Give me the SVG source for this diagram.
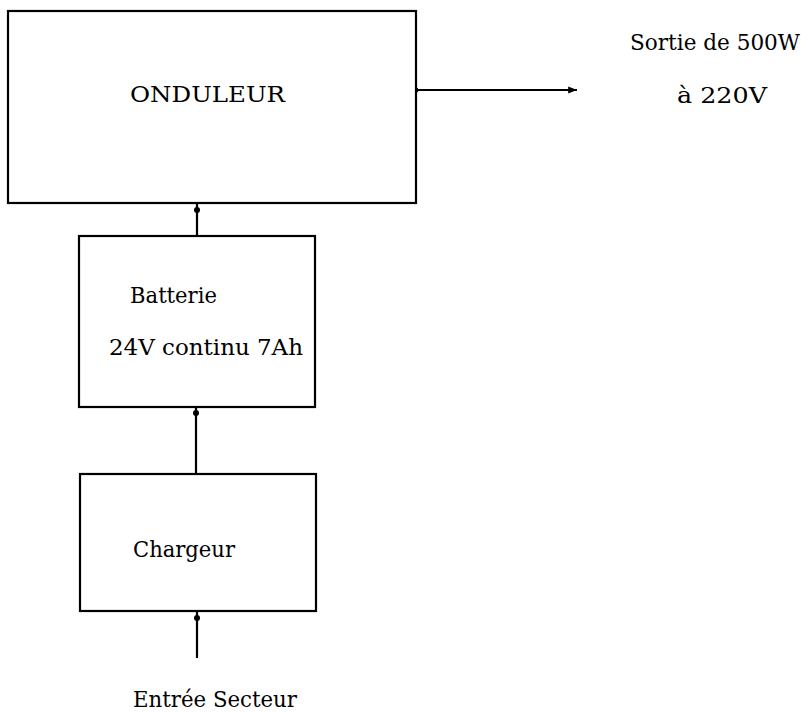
<svg xmlns="http://www.w3.org/2000/svg" width="811" height="713" viewBox="0 0 811 713">
<style>
.box{fill:#fff;stroke:#000;stroke-width:2.2}
.ln{stroke:#000;stroke-width:2.2;fill:none}
.dot{fill:#000}
.t{font-family:"DejaVu Serif","Liberation Serif",serif;font-size:23px;fill:#000}
</style>
<defs>
<marker id="ah" viewBox="0 0 10 10" refX="10" refY="5" markerWidth="4.5" markerHeight="4" orient="auto" markerUnits="strokeWidth">
<path d="M0,1 L10,5 L0,9 z" fill="#000"/>
</marker>
</defs>
<rect width="811" height="713" fill="#fff"/>
<g id="connectors">
<line class="ln" x1="197" y1="203" x2="197" y2="236"/>
<circle class="dot" cx="197" cy="210" r="3"/>
<line class="ln" x1="196" y1="407" x2="196" y2="474"/>
<circle class="dot" cx="196" cy="413" r="3"/>
<line class="ln" x1="197" y1="611" x2="197" y2="658"/>
<circle class="dot" cx="197" cy="618" r="3"/>
<line class="ln" x1="416" y1="90" x2="577" y2="90" marker-end="url(#ah)"/>
<circle class="dot" cx="416" cy="90" r="2.5"/>
</g>
<g id="onduleur">
<rect class="box" x="8" y="11" width="408" height="192"/>
<text class="t" x="130" y="102" textLength="155" lengthAdjust="spacingAndGlyphs">ONDULEUR</text>
</g>
<g id="batterie">
<rect class="box" x="79" y="236" width="236" height="171"/>
<text class="t" x="130" y="303" textLength="87" lengthAdjust="spacingAndGlyphs">Batterie</text>
<text class="t" x="109" y="355" textLength="194" lengthAdjust="spacingAndGlyphs">24V continu 7Ah</text>
</g>
<g id="chargeur">
<rect class="box" x="80" y="474" width="236" height="137"/>
<text class="t" x="133" y="557" textLength="102" lengthAdjust="spacingAndGlyphs">Chargeur</text>
</g>
<g id="sortie">
<text class="t" x="630" y="50" textLength="170" lengthAdjust="spacingAndGlyphs">Sortie de 500W</text>
<text class="t" x="677" y="103" textLength="90" lengthAdjust="spacingAndGlyphs">à 220V</text>
</g>
<g id="entree">
<text class="t" x="133" y="707" textLength="164" lengthAdjust="spacingAndGlyphs">Entrée  Secteur</text>
</g>
</svg>
